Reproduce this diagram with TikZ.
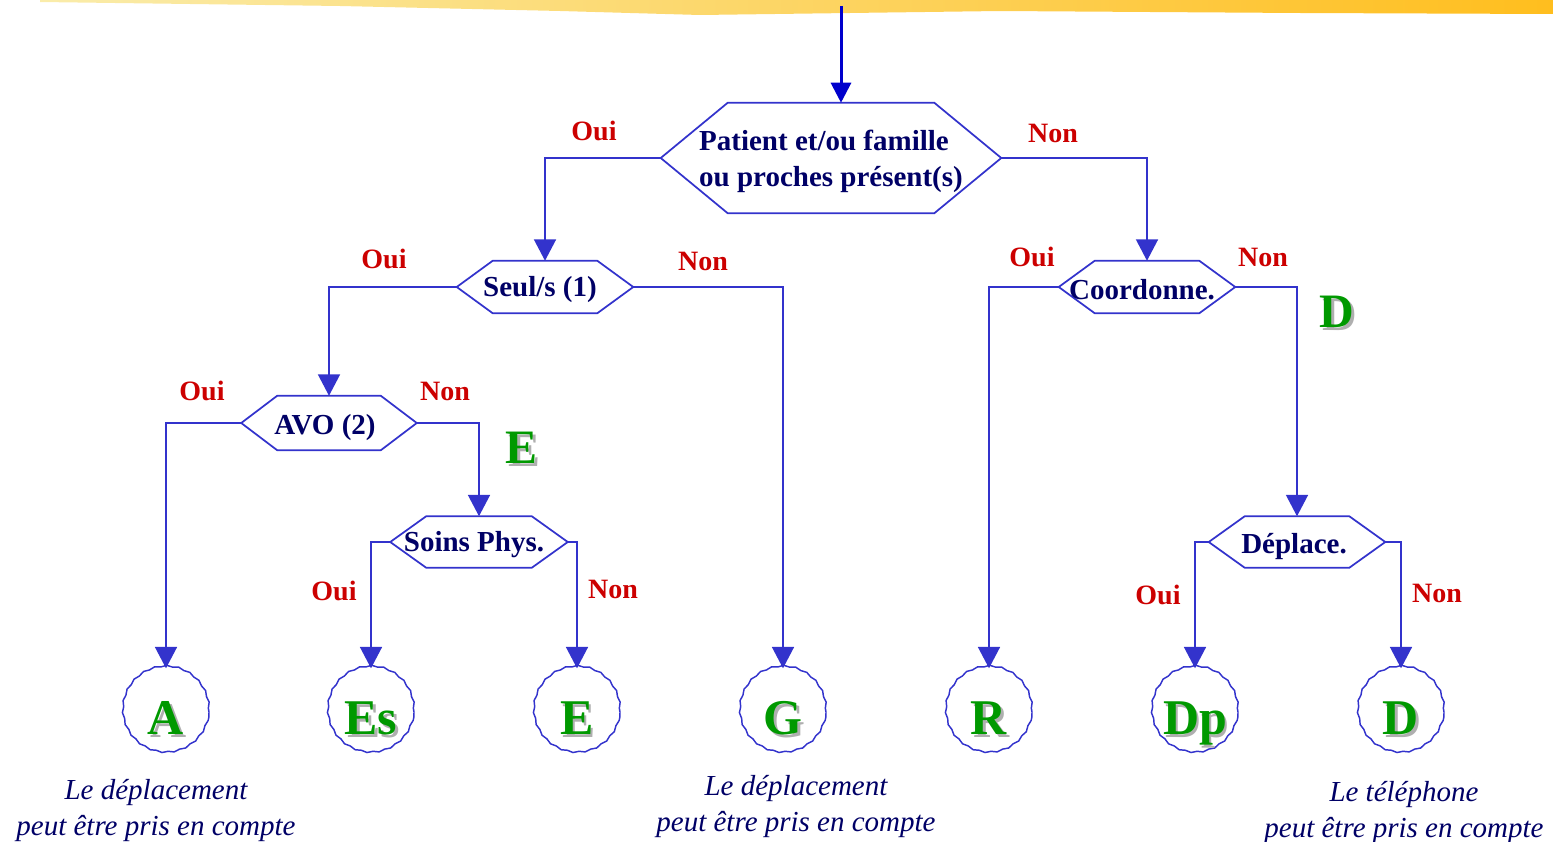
\documentclass[tikz,border=0pt]{standalone}
\usepackage{fontspec}
\setmainfont{Liberation Serif}
\usetikzlibrary{arrows.meta,decorations.pathmorphing,calc}
\definecolor{hexblue}{RGB}{51,51,204}
\definecolor{navy}{RGB}{0,0,102}
\definecolor{redlab}{RGB}{204,0,0}
\definecolor{greenlab}{RGB}{0,153,0}
\definecolor{shadowgray}{RGB}{175,175,175}
\definecolor{toparrow}{RGB}{0,0,204}
\definecolor{bandleft}{RGB}{250,236,170}
\definecolor{bandright}{RGB}{255,190,30}
\newcommand\shtext[1]{\leavevmode\rlap{\kern2pt\raisebox{-2pt}{\textcolor{shadowgray}{#1}}}#1}
\newcommand\hexdraw[2]{\draw[hexline] (#1.west) -- ($(#1.north west)+(#2,0)$) -- ($(#1.north east)+(-#2,0)$) -- (#1.east) -- ($(#1.south east)+(-#2,0)$) -- ($(#1.south west)+(#2,0)$) -- cycle;}
\begin{document}
\begin{tikzpicture}[x=0.75pt,y=-0.75pt,
  hexnode/.style={rectangle, inner sep=0pt, font=\fontsize{21.75pt}{27pt}\selectfont\bfseries, text=navy, align=left},
  hexline/.style={draw=hexblue, line width=1.3pt, fill=white},
  conn/.style={draw=hexblue, line width=1.2pt, -{Triangle[width=16.5pt,length=16pt]}},
  leaf/.style={circle, draw=hexblue, line width=1.1pt, minimum size=64.5pt, inner sep=0pt, text height=34pt, text depth=0pt, font=\fontsize{37.5pt}{40pt}\selectfont\bfseries, text=greenlab, decorate, decoration={snake, amplitude=0.5pt, segment length=9pt}},
  yn/.style={font=\fontsize{21pt}{24pt}\selectfont\bfseries, text=redlab},
  bigl/.style={font=\fontsize{36pt}{40pt}\selectfont\bfseries, text=greenlab},
  caption/.style={font=\fontsize{21.75pt}{27pt}\selectfont\itshape, text=navy, align=center}
]
\useasboundingbox (0,0) rectangle (1553,842);
% top band
\shade[left color=bandleft, right color=bandright] (40,0) -- (1553,0) -- (1553,14) -- (1300,13) -- (1000,11) -- (700,15) -- (560,11) -- (340,6) -- (40,2) -- cycle;

% decision nodes
\node[hexnode, minimum width=255pt, minimum height=82.5pt] (main) at (831,158) {};
\node[hexnode, minimum width=132pt, minimum height=39pt] (seul) at (545,287) {};
\node[hexnode, minimum width=132pt, minimum height=39pt] (coord) at (1147,287) {};
\node[hexnode, minimum width=131.25pt, minimum height=40.5pt] (avo) at (329,423) {};
\node[hexnode, minimum width=132.75pt, minimum height=38.25pt] (soins) at (479,542) {};
\node[hexnode, minimum width=132pt, minimum height=38.25pt] (depl) at (1297,542) {};

\hexdraw{main}{67}
\hexdraw{seul}{36}
\hexdraw{coord}{36}
\hexdraw{avo}{36}
\hexdraw{soins}{36}
\hexdraw{depl}{36}
\node[hexnode] (tmain) at (831,161) {Patient et/ou famille\\ou proches présent(s)};
\node[hexnode] (tseul) at (540,290) {Seul/s (1)};
\node[hexnode] (tcoord) at (1142,290) {Coordonne.};
\node[hexnode] (tavo) at (325,428) {AVO (2)};
\node[hexnode] (tsoins) at (474,545) {Soins Phys.};
\node[hexnode] (tdepl) at (1294,547) {Déplace.};

% leaves
\node[leaf] (A) at (166,712) {\shtext{A}};
\node[leaf] (Es) at (371,712) {\shtext{Es}};
\node[leaf] (E) at (577,712) {\shtext{E}};
\node[leaf] (G) at (783,712) {\shtext{G}};
\node[leaf] (R) at (989,712) {\shtext{R}};
\node[leaf] (Dp) at (1195,712) {\shtext{Dp}};
\node[leaf] (D) at (1401,712) {\shtext{D}};

% top arrow
\coordinate (start) at (841,6);
\draw[draw=toparrow, line width=2.25pt, -{Triangle[width=15pt,length=15pt]}] (start) -- (main.north -| start);

% connectors
\draw[conn] (main.west) -| (seul.north);
\draw[conn] (main.east) -| (coord.north);
\draw[conn] (seul.west) -| (avo.north);
\draw[conn] (seul.east) -| (G.north);
\draw[conn] (coord.west) -| (R.north);
\draw[conn] (coord.east) -| (depl.north);
\draw[conn] (avo.west) -| (A.north);
\draw[conn] (avo.east) -| (soins.north);
\draw[conn] (soins.west) -| (Es.north);
\draw[conn] (soins.east) -| (E.north);
\draw[conn] (depl.west) -| (Dp.north);
\draw[conn] (depl.east) -| (D.north);

% labels
\node[yn] (l1) at (594,131) {Oui};
\node[yn] (l2) at (1053,133) {Non};
\node[yn] (l3) at (384,259) {Oui};
\node[yn] (l4) at (703,261) {Non};
\node[yn] (l5) at (1032,257) {Oui};
\node[yn] (l6) at (1263,257) {Non};
\node[yn] (l7) at (202,391) {Oui};
\node[yn] (l8) at (445,391) {Non};
\node[yn] (l9) at (334,591) {Oui};
\node[yn] (l10) at (613,589) {Non};
\node[yn] (l11) at (1158,595) {Oui};
\node[yn] (l12) at (1437,593) {Non};
\node[bigl] (bD) at (1337,313) {\shtext{D}};
\node[bigl] (bE) at (522,449) {\shtext{E}};

% captions
\node[caption] (c1) at (156,811) {Le déplacement\\peut être pris en compte};
\node[caption] (c2) at (796,807) {Le déplacement\\peut être pris en compte};
\node[caption] (c3) at (1404,813) {Le téléphone\\peut être pris en compte};
\end{tikzpicture}
\end{document}
